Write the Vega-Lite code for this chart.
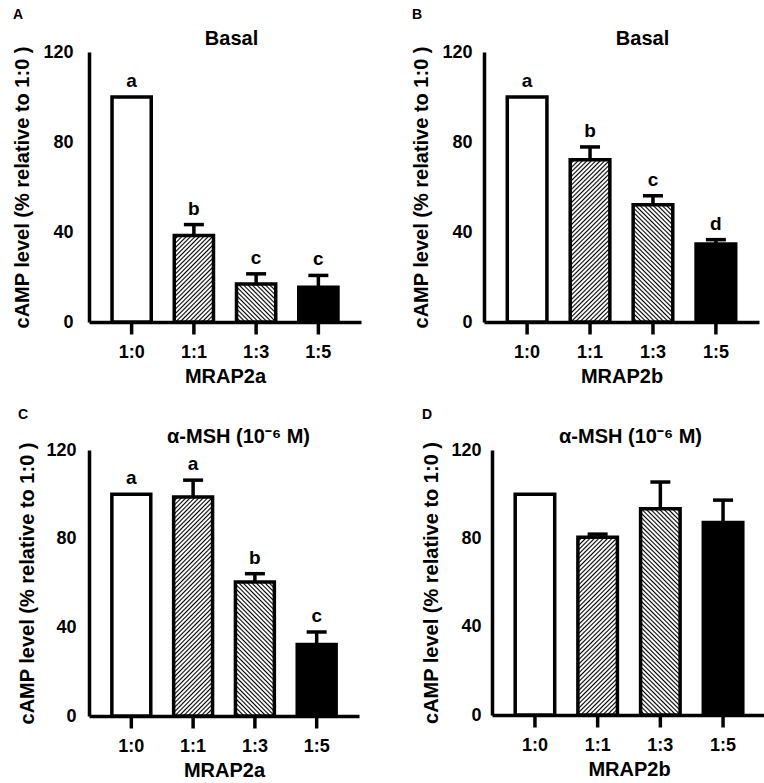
{
  "$schema": "https://vega.github.io/schema/vega-lite/v6.json",
  "padding": {"left": 12, "top": 7, "right": 0, "bottom": 0},
  "params": [
    {
      "name": "hs",
      "value": [
        {"offset":0,"color":"#000"},{"offset":0.0058,"color":"#fff"},{"offset":0.0108,"color":"#fff"},
        {"offset":0.0167,"color":"#000"},{"offset":0.0225,"color":"#fff"},{"offset":0.0275,"color":"#fff"},
        {"offset":0.0333,"color":"#000"},{"offset":0.0392,"color":"#fff"},{"offset":0.0442,"color":"#fff"},
        {"offset":0.05,"color":"#000"},{"offset":0.0558,"color":"#fff"},{"offset":0.0608,"color":"#fff"},
        {"offset":0.0667,"color":"#000"},{"offset":0.0725,"color":"#fff"},{"offset":0.0775,"color":"#fff"},
        {"offset":0.0833,"color":"#000"},{"offset":0.0892,"color":"#fff"},{"offset":0.0942,"color":"#fff"},
        {"offset":0.1,"color":"#000"},{"offset":0.1058,"color":"#fff"},{"offset":0.1108,"color":"#fff"},
        {"offset":0.1167,"color":"#000"},{"offset":0.1225,"color":"#fff"},{"offset":0.1275,"color":"#fff"},
        {"offset":0.1333,"color":"#000"},{"offset":0.1392,"color":"#fff"},{"offset":0.1442,"color":"#fff"},
        {"offset":0.15,"color":"#000"},{"offset":0.1558,"color":"#fff"},{"offset":0.1608,"color":"#fff"},
        {"offset":0.1667,"color":"#000"},{"offset":0.1725,"color":"#fff"},{"offset":0.1775,"color":"#fff"},
        {"offset":0.1833,"color":"#000"},{"offset":0.1892,"color":"#fff"},{"offset":0.1942,"color":"#fff"},
        {"offset":0.2,"color":"#000"},{"offset":0.2058,"color":"#fff"},{"offset":0.2108,"color":"#fff"},
        {"offset":0.2167,"color":"#000"},{"offset":0.2225,"color":"#fff"},{"offset":0.2275,"color":"#fff"},
        {"offset":0.2333,"color":"#000"},{"offset":0.2392,"color":"#fff"},{"offset":0.2442,"color":"#fff"},
        {"offset":0.25,"color":"#000"},{"offset":0.2558,"color":"#fff"},{"offset":0.2608,"color":"#fff"},
        {"offset":0.2667,"color":"#000"},{"offset":0.2725,"color":"#fff"},{"offset":0.2775,"color":"#fff"},
        {"offset":0.2833,"color":"#000"},{"offset":0.2892,"color":"#fff"},{"offset":0.2942,"color":"#fff"},
        {"offset":0.3,"color":"#000"},{"offset":0.3058,"color":"#fff"},{"offset":0.3108,"color":"#fff"},
        {"offset":0.3167,"color":"#000"},{"offset":0.3225,"color":"#fff"},{"offset":0.3275,"color":"#fff"},
        {"offset":0.3333,"color":"#000"},{"offset":0.3392,"color":"#fff"},{"offset":0.3442,"color":"#fff"},
        {"offset":0.35,"color":"#000"},{"offset":0.3558,"color":"#fff"},{"offset":0.3608,"color":"#fff"},
        {"offset":0.3667,"color":"#000"},{"offset":0.3725,"color":"#fff"},{"offset":0.3775,"color":"#fff"},
        {"offset":0.3833,"color":"#000"},{"offset":0.3892,"color":"#fff"},{"offset":0.3942,"color":"#fff"},
        {"offset":0.4,"color":"#000"},{"offset":0.4058,"color":"#fff"},{"offset":0.4108,"color":"#fff"},
        {"offset":0.4167,"color":"#000"},{"offset":0.4225,"color":"#fff"},{"offset":0.4275,"color":"#fff"},
        {"offset":0.4333,"color":"#000"},{"offset":0.4392,"color":"#fff"},{"offset":0.4442,"color":"#fff"},
        {"offset":0.45,"color":"#000"},{"offset":0.4558,"color":"#fff"},{"offset":0.4608,"color":"#fff"},
        {"offset":0.4667,"color":"#000"},{"offset":0.4725,"color":"#fff"},{"offset":0.4775,"color":"#fff"},
        {"offset":0.4833,"color":"#000"},{"offset":0.4892,"color":"#fff"},{"offset":0.4942,"color":"#fff"},
        {"offset":0.5,"color":"#000"},{"offset":0.5058,"color":"#fff"},{"offset":0.5108,"color":"#fff"},
        {"offset":0.5167,"color":"#000"},{"offset":0.5225,"color":"#fff"},{"offset":0.5275,"color":"#fff"},
        {"offset":0.5333,"color":"#000"},{"offset":0.5392,"color":"#fff"},{"offset":0.5442,"color":"#fff"},
        {"offset":0.55,"color":"#000"},{"offset":0.5558,"color":"#fff"},{"offset":0.5608,"color":"#fff"},
        {"offset":0.5667,"color":"#000"},{"offset":0.5725,"color":"#fff"},{"offset":0.5775,"color":"#fff"},
        {"offset":0.5833,"color":"#000"},{"offset":0.5892,"color":"#fff"},{"offset":0.5942,"color":"#fff"},
        {"offset":0.6,"color":"#000"},{"offset":0.6058,"color":"#fff"},{"offset":0.6108,"color":"#fff"},
        {"offset":0.6167,"color":"#000"},{"offset":0.6225,"color":"#fff"},{"offset":0.6275,"color":"#fff"},
        {"offset":0.6333,"color":"#000"},{"offset":0.6392,"color":"#fff"},{"offset":0.6442,"color":"#fff"},
        {"offset":0.65,"color":"#000"},{"offset":0.6558,"color":"#fff"},{"offset":0.6608,"color":"#fff"},
        {"offset":0.6667,"color":"#000"},{"offset":0.6725,"color":"#fff"},{"offset":0.6775,"color":"#fff"},
        {"offset":0.6833,"color":"#000"},{"offset":0.6892,"color":"#fff"},{"offset":0.6942,"color":"#fff"},
        {"offset":0.7,"color":"#000"},{"offset":0.7058,"color":"#fff"},{"offset":0.7108,"color":"#fff"},
        {"offset":0.7167,"color":"#000"},{"offset":0.7225,"color":"#fff"},{"offset":0.7275,"color":"#fff"},
        {"offset":0.7333,"color":"#000"},{"offset":0.7392,"color":"#fff"},{"offset":0.7442,"color":"#fff"},
        {"offset":0.75,"color":"#000"},{"offset":0.7558,"color":"#fff"},{"offset":0.7608,"color":"#fff"},
        {"offset":0.7667,"color":"#000"},{"offset":0.7725,"color":"#fff"},{"offset":0.7775,"color":"#fff"},
        {"offset":0.7833,"color":"#000"},{"offset":0.7892,"color":"#fff"},{"offset":0.7942,"color":"#fff"},
        {"offset":0.8,"color":"#000"},{"offset":0.8058,"color":"#fff"},{"offset":0.8108,"color":"#fff"},
        {"offset":0.8167,"color":"#000"},{"offset":0.8225,"color":"#fff"},{"offset":0.8275,"color":"#fff"},
        {"offset":0.8333,"color":"#000"},{"offset":0.8392,"color":"#fff"},{"offset":0.8442,"color":"#fff"},
        {"offset":0.85,"color":"#000"},{"offset":0.8558,"color":"#fff"},{"offset":0.8608,"color":"#fff"},
        {"offset":0.8667,"color":"#000"},{"offset":0.8725,"color":"#fff"},{"offset":0.8775,"color":"#fff"},
        {"offset":0.8833,"color":"#000"},{"offset":0.8892,"color":"#fff"},{"offset":0.8942,"color":"#fff"},
        {"offset":0.9,"color":"#000"},{"offset":0.9058,"color":"#fff"},{"offset":0.9108,"color":"#fff"},
        {"offset":0.9167,"color":"#000"},{"offset":0.9225,"color":"#fff"},{"offset":0.9275,"color":"#fff"},
        {"offset":0.9333,"color":"#000"},{"offset":0.9392,"color":"#fff"},{"offset":0.9442,"color":"#fff"},
        {"offset":0.95,"color":"#000"},{"offset":0.9558,"color":"#fff"},{"offset":0.9608,"color":"#fff"},
        {"offset":0.9667,"color":"#000"},{"offset":0.9725,"color":"#fff"},{"offset":0.9775,"color":"#fff"},
        {"offset":0.9833,"color":"#000"},{"offset":0.9892,"color":"#fff"},{"offset":0.9942,"color":"#fff"},
        {"offset":1,"color":"#000"}
      ]
    }
  ],
  "spacing": 21,
  "vconcat": [
    {
      "spacing": 50,
      "hconcat": [
        {
          "width": 272,
          "height": 270,
          "title": {"text": "A", "offset": 6.5},
          "data": {"values": [
            {"r": "1:0", "v": 100, "hi": 100, "lab": "a"},
            {"r": "1:1", "v": 38.5, "hi": 43.3, "lab": "b"},
            {"r": "1:3", "v": 16.9, "hi": 21.4, "lab": "c"},
            {"r": "1:5", "v": 15.5, "hi": 20.7, "lab": "c"}
          ]},
          "layer": [
            {
              "mark": {"type": "bar", "stroke": "#000", "strokeWidth": 3.5,
                "fill": {"expr": "datum.r == '1:0' ? '#fff' : datum.r == '1:5' ? '#000' : {gradient: 'linear', x1: 0, y1: datum.r == '1:1' ? 0 : 1, x2: 10375/(1544.5 + pow(2.25*datum.v, 2)), y2: datum.r == '1:1' ? 594*datum.v/(1544.5 + pow(2.25*datum.v, 2)) : 1 - 594*datum.v/(1544.5 + pow(2.25*datum.v, 2)), stops: hs}"}},
              "encoding": {
                "x": {"field": "r", "type": "nominal", "sort": null, "axis": {"title": "MRAP2a", "ticks": true, "tickSize": 12, "tickColor": "#000", "tickWidth": 3.5, "tickOpacity": 1, "tickRound": false}},
                "y": {"field": "v", "type": "quantitative", "scale": {"domain": [0, 120], "nice": false},
                  "axis": {"title": "cAMP level (% relative to 1:0 )", "values": [0, 40, 80, 120], "ticks": false, "labelPadding": 16, "titlePadding": 10}}
              }
            },
            {
              "transform": [{"filter": "datum.hi > datum.v"}],
              "mark": {"type": "rule", "strokeWidth": 3.5, "color": "#000"},
              "encoding": {
                "x": {"field": "r", "type": "nominal", "sort": null, "axis": null},
                "y": {"field": "v", "type": "quantitative"},
                "y2": {"field": "hi"}
              }
            },
            {
              "transform": [{"filter": "datum.hi > datum.v"}],
              "mark": {"type": "tick", "thickness": 3.5, "size": 20, "color": "#000", "opacity": 1},
              "encoding": {
                "x": {"field": "r", "type": "nominal", "sort": null,
                  "axis": {"orient": "top", "title": "Basal", "domain": false, "ticks": false, "labels": false, "titlePadding": 4, "titleX": 142}},
                "y": {"field": "hi", "type": "quantitative"}
              }
            },
            {
              "mark": {"type": "text", "fontSize": 19, "fontWeight": "bold", "baseline": "alphabetic", "dy": -10, "color": "#000"},
              "encoding": {
                "x": {"field": "r", "type": "nominal", "sort": null, "axis": null},
                "y": {"field": "hi", "type": "quantitative"},
                "text": {"field": "lab"}
              }
            }
          ],
          "resolve": {"axis": {"x": "independent"}}
        },
        {
          "width": 275,
          "height": 270,
          "title": {"text": "B", "offset": 6.5},
          "data": {"values": [
            {"r": "1:0", "v": 100, "hi": 100, "lab": "a"},
            {"r": "1:1", "v": 72.1, "hi": 77.8, "lab": "b"},
            {"r": "1:3", "v": 52.1, "hi": 56.1, "lab": "c"},
            {"r": "1:5", "v": 34.7, "hi": 36.6, "lab": "d"}
          ]},
          "layer": [
            {
              "mark": {"type": "bar", "stroke": "#000", "strokeWidth": 3.5,
                "fill": {"expr": "datum.r == '1:0' ? '#fff' : datum.r == '1:5' ? '#000' : {gradient: 'linear', x1: 0, y1: datum.r == '1:1' ? 0 : 1, x2: 10375/(1544.5 + pow(2.25*datum.v, 2)), y2: datum.r == '1:1' ? 594*datum.v/(1544.5 + pow(2.25*datum.v, 2)) : 1 - 594*datum.v/(1544.5 + pow(2.25*datum.v, 2)), stops: hs}"}},
              "encoding": {
                "x": {"field": "r", "type": "nominal", "sort": null, "axis": {"title": "MRAP2b", "ticks": true, "tickSize": 12, "tickColor": "#000", "tickWidth": 3.5, "tickOpacity": 1, "tickRound": false}},
                "y": {"field": "v", "type": "quantitative", "scale": {"domain": [0, 120], "nice": false},
                  "axis": {"title": "cAMP level (% relative to 1:0 )", "values": [0, 40, 80, 120], "ticks": false, "labelPadding": 12, "titlePadding": 10}}
              }
            },
            {
              "transform": [{"filter": "datum.hi > datum.v"}],
              "mark": {"type": "rule", "strokeWidth": 3.5, "color": "#000"},
              "encoding": {
                "x": {"field": "r", "type": "nominal", "sort": null, "axis": null},
                "y": {"field": "v", "type": "quantitative"},
                "y2": {"field": "hi"}
              }
            },
            {
              "transform": [{"filter": "datum.hi > datum.v"}],
              "mark": {"type": "tick", "thickness": 3.5, "size": 20, "color": "#000", "opacity": 1},
              "encoding": {
                "x": {"field": "r", "type": "nominal", "sort": null,
                  "axis": {"orient": "top", "title": "Basal", "domain": false, "ticks": false, "labels": false, "titlePadding": 4, "titleX": 158}},
                "y": {"field": "hi", "type": "quantitative"}
              }
            },
            {
              "mark": {"type": "text", "fontSize": 19, "fontWeight": "bold", "baseline": "alphabetic", "dy": -10, "color": "#000"},
              "encoding": {
                "x": {"field": "r", "type": "nominal", "sort": null, "axis": null},
                "y": {"field": "hi", "type": "quantitative"},
                "text": {"field": "lab"}
              }
            }
          ],
          "resolve": {"axis": {"x": "independent"}}
        }
      ]
    },
    {
      "spacing": 62,
      "hconcat": [
        {
          "width": 270,
          "height": 266,
          "title": {"text": "C", "offset": 4.5},
          "data": {"values": [
            {"r": "1:0", "v": 100, "hi": 100, "lab": "a"},
            {"r": "1:1", "v": 98.8, "hi": 106.4, "lab": "a"},
            {"r": "1:3", "v": 60.4, "hi": 64.2, "lab": "b"},
            {"r": "1:5", "v": 32.2, "hi": 37.9, "lab": "c"}
          ]},
          "layer": [
            {
              "mark": {"type": "bar", "stroke": "#000", "strokeWidth": 3.5,
                "fill": {"expr": "datum.r == '1:0' ? '#fff' : datum.r == '1:5' ? '#000' : {gradient: 'linear', x1: 0, y1: datum.r == '1:1' ? 0 : 1, x2: 10375/(1544.5 + pow(2.2167*datum.v, 2)), y2: datum.r == '1:1' ? 585.2*datum.v/(1544.5 + pow(2.2167*datum.v, 2)) : 1 - 585.2*datum.v/(1544.5 + pow(2.2167*datum.v, 2)), stops: hs}"}},
              "encoding": {
                "x": {"field": "r", "type": "nominal", "sort": null, "axis": {"title": "MRAP2a", "ticks": true, "tickSize": 12, "tickColor": "#000", "tickWidth": 3.5, "tickOpacity": 1, "tickRound": false}},
                "y": {"field": "v", "type": "quantitative", "scale": {"domain": [0, 120], "nice": false},
                  "axis": {"title": "cAMP level (% relative to 1:0 )", "values": [0, 40, 80, 120], "ticks": false, "labelPadding": 13, "titlePadding": 8}}
              }
            },
            {
              "transform": [{"filter": "datum.hi > datum.v"}],
              "mark": {"type": "rule", "strokeWidth": 3.5, "color": "#000"},
              "encoding": {
                "x": {"field": "r", "type": "nominal", "sort": null, "axis": null},
                "y": {"field": "v", "type": "quantitative"},
                "y2": {"field": "hi"}
              }
            },
            {
              "transform": [{"filter": "datum.hi > datum.v"}],
              "mark": {"type": "tick", "thickness": 3.5, "size": 20, "color": "#000", "opacity": 1},
              "encoding": {
                "x": {"field": "r", "type": "nominal", "sort": null,
                  "axis": {"orient": "top", "title": "α-MSH (10⁻⁶ M)", "domain": false, "ticks": false, "labels": false, "titlePadding": 4, "titleX": 149}},
                "y": {"field": "hi", "type": "quantitative"}
              }
            },
            {
              "mark": {"type": "text", "fontSize": 19, "fontWeight": "bold", "baseline": "alphabetic", "dy": -10, "color": "#000"},
              "encoding": {
                "x": {"field": "r", "type": "nominal", "sort": null, "axis": null},
                "y": {"field": "hi", "type": "quantitative"},
                "text": {"field": "lab"}
              }
            }
          ],
          "resolve": {"axis": {"x": "independent"}}
        },
        {
          "width": 274,
          "height": 265,
          "title": {"text": "D", "offset": 4.5},
          "data": {"values": [
            {"r": "1:0", "v": 100, "hi": 100, "lab": ""},
            {"r": "1:1", "v": 80.5, "hi": 81.9, "lab": ""},
            {"r": "1:3", "v": 93.4, "hi": 105.5, "lab": ""},
            {"r": "1:5", "v": 87.2, "hi": 97.3, "lab": ""}
          ]},
          "layer": [
            {
              "mark": {"type": "bar", "stroke": "#000", "strokeWidth": 3.5,
                "fill": {"expr": "datum.r == '1:0' ? '#fff' : datum.r == '1:5' ? '#000' : {gradient: 'linear', x1: 0, y1: datum.r == '1:1' ? 0 : 1, x2: 10375/(1544.5 + pow(2.208*datum.v, 2)), y2: datum.r == '1:1' ? 583*datum.v/(1544.5 + pow(2.208*datum.v, 2)) : 1 - 583*datum.v/(1544.5 + pow(2.208*datum.v, 2)), stops: hs}"}},
              "encoding": {
                "x": {"field": "r", "type": "nominal", "sort": null, "axis": {"title": "MRAP2b", "ticks": true, "tickSize": 12, "tickColor": "#000", "tickWidth": 3.5, "tickOpacity": 1, "tickRound": false}},
                "y": {"field": "v", "type": "quantitative", "scale": {"domain": [0, 120], "nice": false},
                  "axis": {"title": "cAMP level (% relative to 1:0 )", "values": [0, 40, 80, 120], "ticks": false, "labelPadding": 11, "titlePadding": 9}}
              }
            },
            {
              "transform": [{"filter": "datum.hi > datum.v"}],
              "mark": {"type": "rule", "strokeWidth": 3.5, "color": "#000"},
              "encoding": {
                "x": {"field": "r", "type": "nominal", "sort": null, "axis": null},
                "y": {"field": "v", "type": "quantitative"},
                "y2": {"field": "hi"}
              }
            },
            {
              "transform": [{"filter": "datum.hi > datum.v"}],
              "mark": {"type": "tick", "thickness": 3.5, "size": 20, "color": "#000", "opacity": 1},
              "encoding": {
                "x": {"field": "r", "type": "nominal", "sort": null,
                  "axis": {"orient": "top", "title": "α-MSH (10⁻⁶ M)", "domain": false, "ticks": false, "labels": false, "titlePadding": 4, "titleX": 138}},
                "y": {"field": "hi", "type": "quantitative"}
              }
            },
            {
              "mark": {"type": "text", "fontSize": 19, "fontWeight": "bold", "baseline": "alphabetic", "dy": -10, "color": "#000"},
              "encoding": {
                "x": {"field": "r", "type": "nominal", "sort": null, "axis": null},
                "y": {"field": "hi", "type": "quantitative"},
                "text": {"field": "lab"}
              }
            }
          ],
          "resolve": {"axis": {"x": "independent"}}
        }
      ]
    }
  ],
  "config": {
    "font": "Liberation Sans",
    "view": {"stroke": null},
    "scale": {"bandPaddingInner": 0.37, "bandPaddingOuter": 0.37},
    "axis": {
      "domainColor": "black", "domainWidth": 3.5,
      "labelColor": "black", "labelFont": "Liberation Sans", "labelFontSize": 18, "labelFontWeight": "bold",
      "titleColor": "black", "titleFont": "Liberation Sans", "titleFontSize": 20, "titleFontWeight": "bold",
      "grid": false
    },
    "axisX": {"labelAngle": 0, "labelPadding": 9, "titlePadding": 5},
    "title": {"anchor": "start", "frame": "bounds", "fontSize": 14, "fontWeight": "bold", "color": "black", "font": "Liberation Sans"}
  }
}
